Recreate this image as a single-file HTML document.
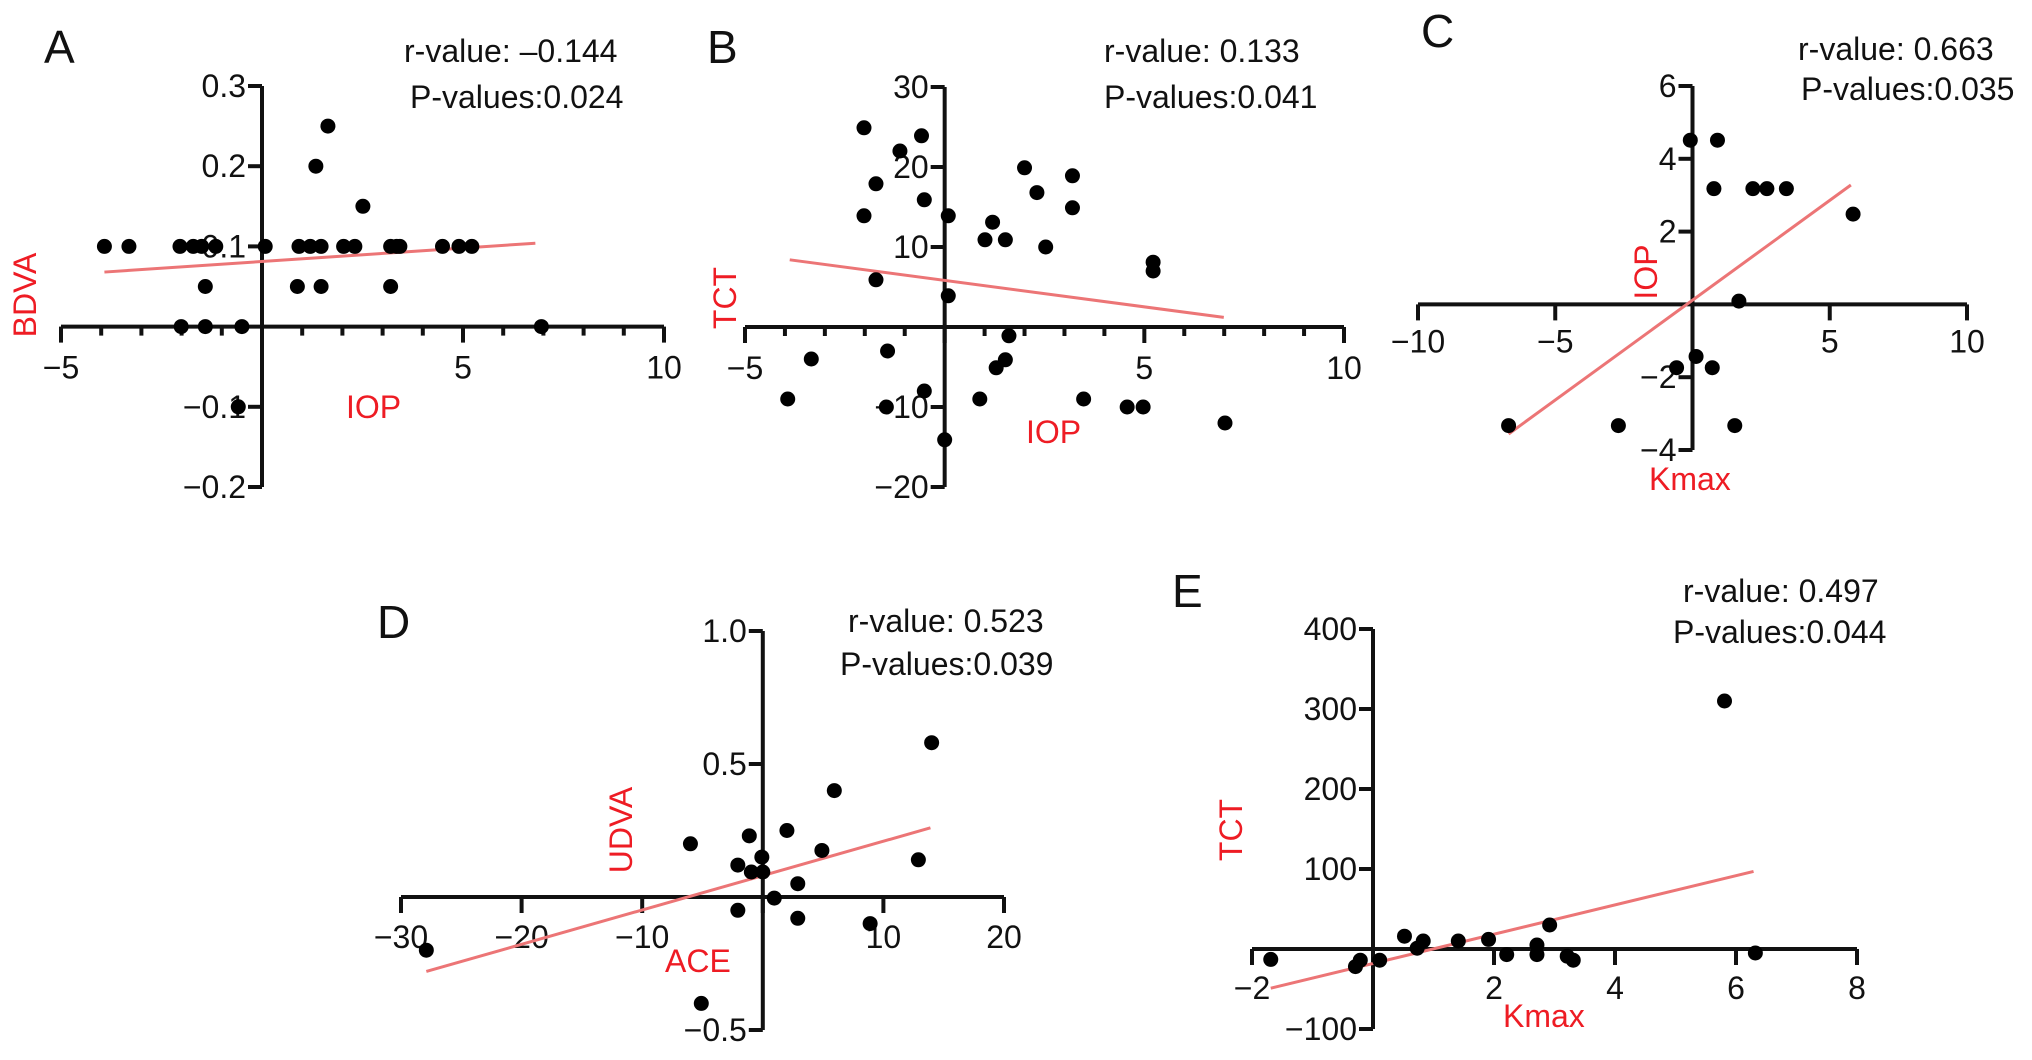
<!DOCTYPE html>
<html><head><meta charset="utf-8"><style>
html,body{margin:0;padding:0;background:#fff;}
svg{display:block;font-family:"Liberation Sans",Arial,sans-serif;}
</style></head><body>
<svg id="fig" width="2032" height="1060" viewBox="0 0 2032 1060"></svg>
<script>
// Panel A
const aX=[-3.92,-3.31,-2.04,-1.71,-1.5,-1.15,0.08,0.92,1.2,1.47,2.03,2.31,3.2,3.35,3.43,4.49,4.9,5.22,1.64,1.34,2.51,-1.41,0.88,1.47,3.2,-2.01,-1.41,-0.5,6.95,-0.59];
const aY=[0.1,0.1,0.1,0.1,0.1,0.1,0.1,0.1,0.1,0.1,0.1,0.1,0.1,0.1,0.1,0.1,0.1,0.1,0.25,0.2,0.15,0.05,0.05,0.05,0.05,0,0,0,0,-0.1];
const aFit=[[-3.92,0.068],[6.8,0.104]];
// Panel B
const bX=[-2.02,-0.58,-1.12,-1.72,-0.51,-2.02,0.09,1.2,1.01,1.52,2.0,2.31,2.53,3.2,3.2,5.22,5.22,-1.72,0.09,1.61,-1.43,-3.34,1.52,1.29,-0.51,-3.93,0.88,3.48,-1.46,4.57,4.97,7.02,0];
const bY=[24.9,23.9,22.0,17.9,15.9,13.9,13.9,13.1,10.9,10.9,19.9,16.8,10,18.9,14.9,8.1,7.0,5.9,3.9,-1.1,-3.0,-4.0,-4.1,-5.1,-8.0,-9,-9,-9,-10,-10,-10,-12,-14.1];
const bFit=[[-3.88,8.4],[6.99,1.2]];
// Panel C
const cX=[-0.08,0.91,0.78,2.2,2.71,3.42,5.85,1.69,0.13,-0.58,0.72,-6.7,-2.7,1.54];
const cY=[4.51,4.51,3.18,3.18,3.18,3.18,2.48,0.09,-1.43,-1.74,-1.74,-3.33,-3.33,-3.33];
const cFit=[[-6.7,-3.56],[5.77,3.28]];
// Panel D
const dX=[-27.9,14.0,5.93,2.0,-1.12,-6.0,4.9,12.9,-0.08,-2.07,-0.95,0,2.9,0.95,-2.07,2.9,8.9,-5.1];
const dY=[-0.2,0.58,0.4,0.25,0.23,0.2,0.175,0.14,0.15,0.12,0.094,0.094,0.05,-0.004,-0.05,-0.08,-0.1,-0.4];
const dFit=[[-27.9,-0.28],[13.9,0.26]];
// Panel E
const eX=[-1.69,-0.29,-0.21,0.11,0.52,0.73,0.83,1.41,1.91,2.21,2.71,2.71,2.92,3.21,3.31,5.81,6.32];
const eY=[-13,-22,-14,-14,16,1,10,10,12,-7,5,-7,30,-9,-14,310,-5];
const eFit=[[-1.69,-49],[6.29,97]];
// Tick labels
const aXTicks=[-5,5,10], aYTicks=[0.3,0.2,0.1,-0.1,-0.2], aYLbl=["0.3","0.2","0.1","\u22120.1","\u22120.2"];
const bXTicks=[-5,5,10], bYTicks=[30,20,10,-10,-20], bYLbl=["30","20","10","\u221210","\u221220"];
const cXTicks=[-10,-5,5,10], cYTicks=[6,4,2,-2,-4], cYLbl=["6","4","2","\u22122","\u22124"];
const dXTicks=[-30,-20,-10,10,20], dYTicks=[1.0,0.5,-0.5], dYLbl=["1.0","0.5","\u22120.5"];
const eXTicks=[-2,2,4,6,8], eYTicks=[400,300,200,100,-100], eYLbl=["400","300","200","100","\u2212100"];

const NS="http://www.w3.org/2000/svg";
const svg=document.getElementById('fig');
function mk(tag,attrs,parent,text){const e=document.createElementNS(NS,tag);for(const k in attrs)e.setAttribute(k,attrs[k]);if(text!==undefined)e.textContent=text;(parent||svg).appendChild(e);return e;}
function fmt(v){return v<0?"\u2212"+Math.abs(v):String(v);}

function panel(p){
  const g=mk('g',{});
  
  
  const sx=v=>p.px0+(v-p.xmin)*(p.px1-p.px0)/(p.xmax-p.xmin);
  const sy=v=>p.py0+(v-p.ymax)*(p.py1-p.py0)/(p.ymin-p.ymax);
  const ax=sx(0), ay=sy(0);
  // x axis
  const xa=mk('line',{x1:p.px0,y1:ay,x2:p.px1,y2:ay,stroke:'#111','stroke-width':4},g);
  
  
  for(let v=p.xmin;v<=p.xmax+1e-9;v+=p.xminor){
    const major=Math.abs(v/p.xmajor-Math.round(v/p.xmajor))<1e-6;
    mk('line',{x1:sx(v),y1:ay,x2:sx(v),y2:ay+(major?16:9),stroke:'#111','stroke-width':4},g);
  }
  p.xt.forEach(v=>{
    const t=mk('text',{x:sx(v),y:ay+p.xlab,'font-size':32,'text-anchor':'middle',fill:'#111'},g,fmt(v));
    
    
  });
  // y axis
  const ya=mk('line',{x1:ax,y1:p.py0,x2:ax,y2:p.py1,stroke:'#111','stroke-width':4},g);
  
  
  p.yt.forEach((v,i)=>{
    mk('line',{x1:ax-14,y1:sy(v),x2:ax,y2:sy(v),stroke:'#111','stroke-width':4},g);
    const t=mk('text',{x:ax-16,y:sy(v)+11,'font-size':32,'text-anchor':'end',fill:'#111'},g,p.yl[i]);
    
    
  });
  // fit line
  const fl=mk('line',{x1:sx(p.fit[0][0]),y1:sy(p.fit[0][1]),x2:sx(p.fit[1][0]),y2:sy(p.fit[1][1]),stroke:'#ec7576','stroke-width':3},g);
  
  
  // points
  p.xs.forEach((x,i)=>{
    const c=mk('circle',{cx:sx(x),cy:sy(p.ys[i]),r:7.5,fill:'#000'},g);
    
    
  });
  // texts
  const L=mk('text',{x:p.let[0],y:p.let[1],'font-size':46,fill:'#111'},g,p.id);
  
  
  const r=mk('text',{x:p.r[0],y:p.r[1],'font-size':32,fill:'#111'},g,p.rt);
  
  
  const pv=mk('text',{x:p.p[0],y:p.p[1],'font-size':32,fill:'#111'},g,p.pt);
  
  
  const xt=mk('text',{x:p.xtl[0],y:p.xtl[1],'font-size':32,fill:'#ee1c24'},g,p.xtitle);
  
  
  const yt=mk('text',{x:0,y:0,'font-size':32,fill:'#ee1c24','text-anchor':'middle',transform:`translate(${p.ytl[0]+11},${p.ytl[1]}) rotate(-90)`},g,p.ytitle);
  
  
}

panel({id:'A',xs:aX,ys:aY,fit:aFit,xmin:-5,xmax:10,px0:61,px1:664,ymin:-0.2,ymax:0.3,py0:86,py1:487,xminor:1,xmajor:5,xt:aXTicks,yt:aYTicks,yl:aYLbl,xlab:52,
  let:[44,63],r:[404,62],rt:'r-value: \u20130.144',p:[410,108],pt:'P-values:0.024',xtl:[346,418],xtitle:'IOP',ytl:[25,295],ytitle:'BDVA'});
panel({id:'B',xs:bX,ys:bY,fit:bFit,xmin:-5,xmax:10,px0:745,px1:1344,ymin:-20,ymax:30,py0:87,py1:487,xminor:1,xmajor:5,xt:bXTicks,yt:bYTicks,yl:bYLbl,xlab:52,
  let:[707,63],r:[1104,62],rt:'r-value: 0.133',p:[1104,108],pt:'P-values:0.041',xtl:[1026,443],xtitle:'IOP',ytl:[725,298],ytitle:'TCT'});
panel({id:'C',xs:cX,ys:cY,fit:cFit,xmin:-10,xmax:10,px0:1418,px1:1967,ymin:-4,ymax:6,py0:86,py1:450,xminor:5,xmajor:5,xt:cXTicks,yt:cYTicks,yl:cYLbl,xlab:48,
  let:[1421,47],r:[1798,60],rt:'r-value: 0.663',p:[1801,100],pt:'P-values:0.035',xtl:[1649,490],xtitle:'Kmax',ytl:[1646,272],ytitle:'IOP'});
panel({id:'D',xs:dX,ys:dY,fit:dFit,xmin:-30,xmax:20,px0:401,px1:1004,ymin:-0.5,ymax:1.0,py0:631,py1:1030,xminor:10,xmajor:10,xt:dXTicks,yt:dYTicks,yl:dYLbl,xlab:51,
  let:[377,638],r:[848,632],rt:'r-value: 0.523',p:[840,675],pt:'P-values:0.039',xtl:[665,972],xtitle:'ACE',ytl:[621,830],ytitle:'UDVA'});
panel({id:'E',xs:eX,ys:eY,fit:eFit,xmin:-2,xmax:8,px0:1252,px1:1857,ymin:-100,ymax:400,py0:629,py1:1029,xminor:2,xmajor:2,xt:eXTicks,yt:eYTicks,yl:eYLbl,xlab:50,
  let:[1172,607],r:[1683,602],rt:'r-value: 0.497',p:[1673,643],pt:'P-values:0.044',xtl:[1503,1027],xtitle:'Kmax',ytl:[1231,830],ytitle:'TCT'});
</script>
</body></html>
